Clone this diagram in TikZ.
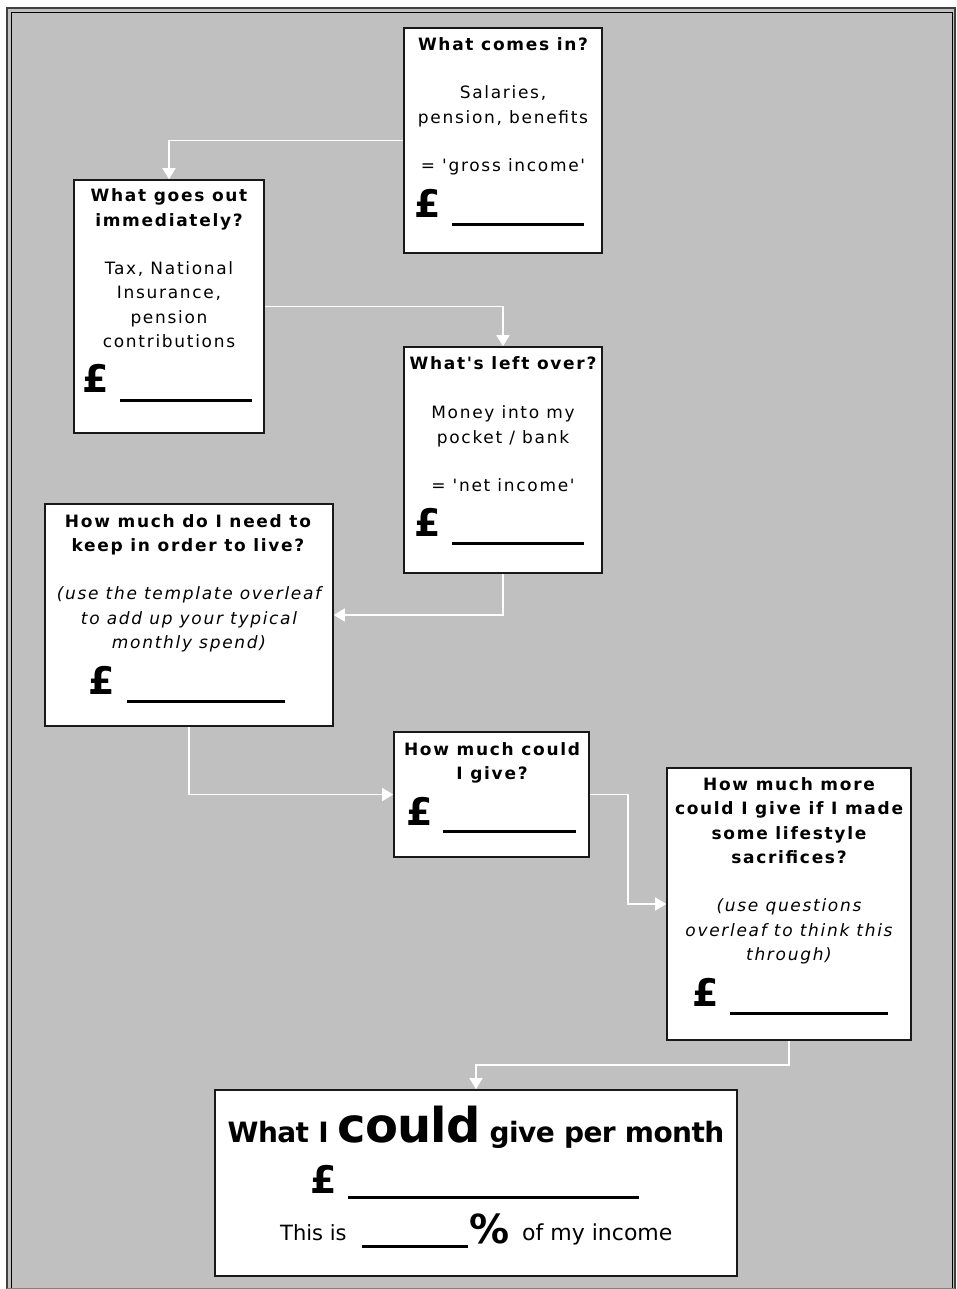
\documentclass[tikz,border=0pt]{standalone}
\usepackage{fontspec}
\setmainfont{DejaVu Sans}[LetterSpace=10, Ligatures=TeXOff]
\newfontfamily\titlefont{DejaVu Sans}[LetterSpace=-2]
\newfontfamily\plainfont{DejaVu Sans}
\usetikzlibrary{arrows.meta,calc}
\definecolor{bggray}{HTML}{C0C0C0}
\tikzset{
  box/.style={draw=black!90, line width=1.6pt, fill=white, inner sep=0pt, rectangle},
  conn/.style={draw=white, line width=1.6pt, -{Triangle[length=11pt,width=13pt]}},
  hd/.style={anchor=base, inner sep=0pt, font=\fontsize{17}{20}\selectfont\bfseries},
  bd/.style={anchor=base, inner sep=0pt, font=\fontsize{17}{20}\selectfont},
  itx/.style={anchor=base, inner sep=0pt, font=\fontsize{17}{20}\selectfont\itshape},
  pound/.style={anchor=base west, inner sep=0pt, font=\plainfont\fontsize{38}{40}\selectfont\bfseries},
  blank/.style={line width=2.6pt, black},
}
\begin{document}
\begin{tikzpicture}[x=1pt,y=-1pt]
\useasboundingbox (0,0) rectangle (956,1289);
\fill[white] (0,0) rectangle (956,1289);
\fill[bggray] (7,8) rectangle (955,1289);
\draw[black!75, line width=1.5pt] (7,1289) -- (7,8) -- (955,8) -- (955,1289);
\draw[black, line width=1.2pt] (11.5,1289) -- (11.5,12.5) -- (952.5,12.5) -- (952.5,1289);
\draw[gray, line width=1pt] (7,1288.5) -- (955,1288.5);

% boxes
\node[box, minimum width=198pt, minimum height=225pt] (b1) at (503,140.5) {};
\node[box, minimum width=190pt, minimum height=253pt] (b2) at (169,306.5) {};
\node[box, minimum width=198pt, minimum height=226pt] (b3) at (503,460) {};
\node[box, minimum width=288pt, minimum height=222pt] (b4) at (189,615) {};
\node[box, minimum width=195pt, minimum height=125pt] (b5) at (491.5,794.5) {};
\node[box, minimum width=244pt, minimum height=272pt] (b6) at (789,904) {};
\node[box, minimum width=522pt, minimum height=186pt] (b7) at (476,1183) {};

% connectors
\draw[conn] (b1.west) -| (b2.north);
\draw[conn] (b2.east) -| (b3.north);
\draw[conn] (b3.south) |- (b4.east);
\draw[conn] (b4.south) |- (b5.west);
\draw[conn] (b5.east) -| ($(b5.east)!.5!(b6.west)$) |- (b6.west);
\draw[conn] (b6.south) |- ($(b6.south)!.5!(b7.north)$) -| (b7.north);

% box 1
\node[hd] (t1a) at (503,51) {What comes in?};
\node[bd] (t1b) at (503,99) {Salaries,};
\node[bd] (t1c) at (503,123.5) {pension, benefits};
\node[bd] (t1d) at (503,172) {= 'gross income'};
\node[pound] (p1) at (414,218) {£};
\draw[blank] (452,224.5) -- (584,224.5);

% box 2
\node[hd] (t2a) at (169,202) {What goes out};
\node[hd] (t2b) at (169,226) {immediately?};
\node[bd] (t2c) at (169,274) {Tax, National};
\node[bd] (t2d) at (169,298.5) {Insurance,};
\node[bd] (t2e) at (169,323) {pension};
\node[bd] (t2f) at (169,347) {contributions};
\node[pound] (p2) at (82,392) {£};
\draw[blank] (120,400.5) -- (252,400.5);

% box 3
\node[hd] (t3a) at (503,369) {What's left over?};
\node[bd] (t3b) at (503,418) {Money into my};
\node[bd] (t3c) at (503,443) {pocket / bank};
\node[bd] (t3d) at (503,491) {= 'net income'};
\node[pound] (p3) at (414,536) {£};
\draw[blank] (452,543.5) -- (584,543.5);

% box 4
\node[hd] (t4a) at (188,527) {How much do I need to};
\node[hd] (t4b) at (188,551) {keep in order to live?};
\node[itx] (t4c) at (189,599) {(use the template overleaf};
\node[itx] (t4d) at (189,624) {to add up your typical};
\node[itx] (t4e) at (189,648) {monthly spend)};
\node[pound] (p4) at (88,694) {£};
\draw[blank] (127,701.5) -- (285,701.5);

% box 5
\node[hd] (t5a) at (492,755) {How much could};
\node[hd] (t5b) at (492,779) {I give?};
\node[pound] (p5) at (406,825) {£};
\draw[blank] (443,831.5) -- (576,831.5);

% box 6
\node[hd] (t6a) at (789,790) {How much more};
\node[hd] (t6b) at (789,814) {could I give if I made};
\node[hd] (t6c) at (789,839) {some lifestyle};
\node[hd] (t6d) at (789,863) {sacrifices?};
\node[itx] (t6e) at (789,911) {(use questions};
\node[itx] (t6f) at (789,936) {overleaf to think this};
\node[itx] (t6g) at (789,960) {through)};
\node[pound] (p6) at (692,1006) {£};
\draw[blank] (730,1013.5) -- (888,1013.5);

% box 7
\node[anchor=base, inner sep=0pt, font=\titlefont\fontsize{28}{30}\selectfont\bfseries] (t7a) at (476,1142)
  {What I {\fontsize{48}{50}\selectfont could} give per month};
\node[pound] (p7) at (310,1193) {£};
\draw[blank] (348,1197.5) -- (639,1197.5);
\node[anchor=base west, inner sep=0pt, font=\plainfont\fontsize{21}{24}\selectfont] (t7b) at (280,1240) {This is};
\draw[blank] (362,1246.5) -- (468,1246.5);
\node[anchor=base west, inner sep=0pt, font=\plainfont\fontsize{40}{42}\selectfont\bfseries] (t7c) at (469,1243) {\%};
\node[anchor=base west, inner sep=0pt, font=\plainfont\fontsize{22}{24}\selectfont] (t7d) at (522,1240) {of my income};
\end{tikzpicture}
\end{document}
